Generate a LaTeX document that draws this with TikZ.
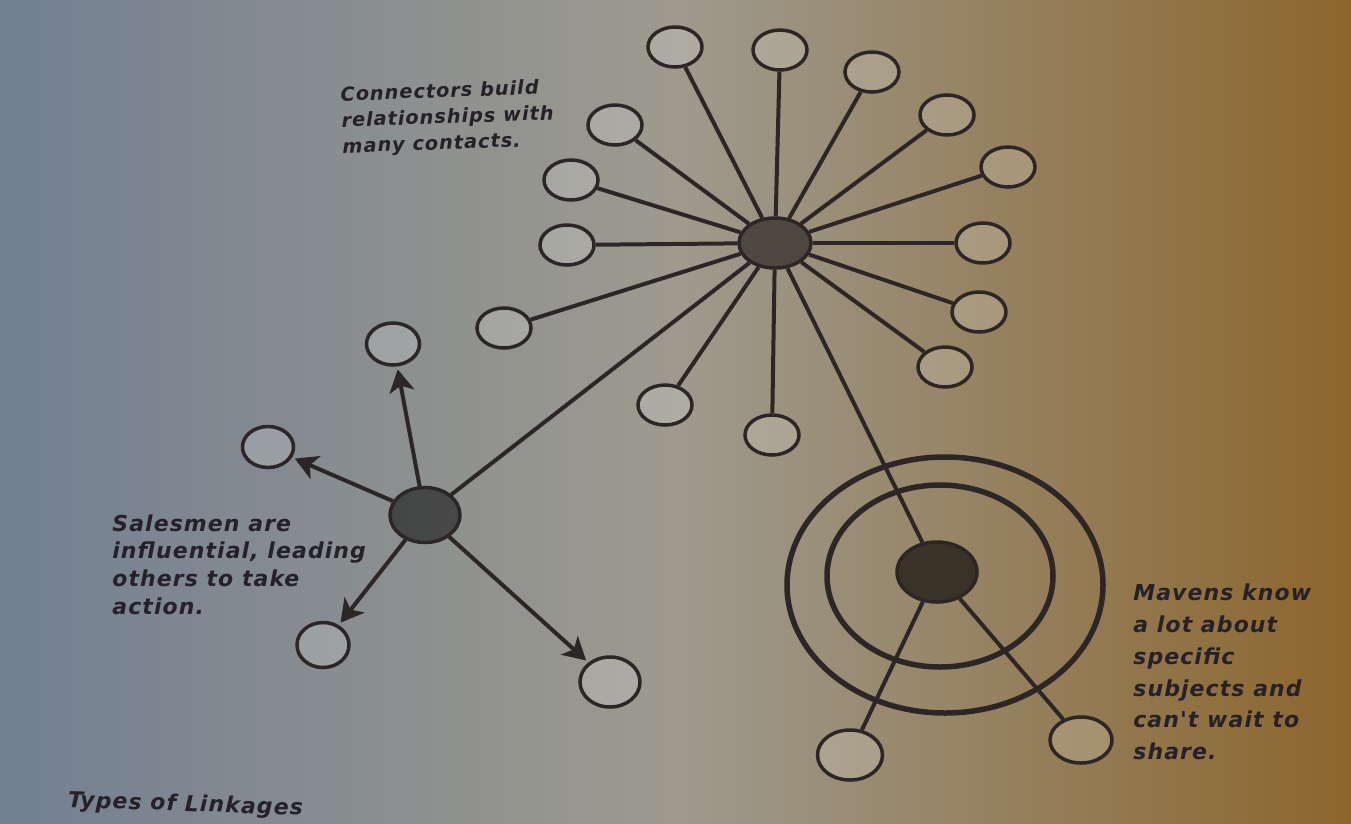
\documentclass[tikz,border=0pt]{standalone}
\usepackage{fontspec}
\newfontfamily\handfont[LetterSpace=5]{DejaVu Sans}
\usepackage{tikz}
\usetikzlibrary{arrows.meta, shapes.geometric, positioning}

\definecolor{pageLeft}{RGB}{114,128,146}
\definecolor{pageMid}{RGB}{158,154,142}
\definecolor{pageOlive}{RGB}{160,142,100}
\definecolor{pageRight}{RGB}{140,102,44}
\definecolor{ink}{RGB}{45,38,38}
\definecolor{penText}{RGB}{38,32,40}

\begin{document}
\begin{tikzpicture}[x=0.2mm, y=-0.2mm,   % one unit = one pixel of the page
    leaf/.style={
        ellipse,
        draw=ink,
        line width=0.7mm,
        fill=white,
        fill opacity=0.18,
        inner sep=0pt,
        minimum width=10.8mm,
        minimum height=8mm
    },
    hub/.style={
        ellipse,
        draw=ink,
        line width=0.7mm,
        fill=black,
        fill opacity=0.5,
        inner sep=0pt
    },
    spoke/.style={draw=ink, line width=0.8mm},
    push/.style={spoke, -{Stealth[length=4.5mm, width=5mm, inset=1.2mm]}, shorten >=0.6mm},
    ring/.style={draw=ink, line width=1.1mm},
    remark/.style={
        font=\handfont\bfseries\itshape\fontsize{12.5pt}{#1}\selectfont,
        text=penText,
        align=left,
        anchor=north west,
        inner sep=0pt
    }
]

    \useasboundingbox (0,0) rectangle (1351,823);
    \fill[left color=pageLeft, right color=pageMid] (0,0) rectangle (680,823);
    \fill[left color=pageMid, middle color=pageOlive, right color=pageRight]
        (680,0) rectangle (1351,823);

    % 1. The Connector
    \node [hub, minimum width=14.4mm, minimum height=10mm] (conn) at (775,243) {};
    \node [leaf] (connA) at (675,47) {};
    \node [leaf] (connB) at (780,50) {};
    \node [leaf] (connC) at (872,72) {};
    \node [leaf] (connD) at (947,115) {};
    \node [leaf] (connE) at (1008,167) {};
    \node [leaf] (connF) at (983,243) {};
    \node [leaf] (connG) at (979,312) {};
    \node [leaf] (connH) at (945,367) {};
    \node [leaf] (connI) at (772,435) {};
    \node [leaf] (connJ) at (665,405) {};
    \node [leaf] (connK) at (504,328) {};
    \node [leaf] (connL) at (567,245) {};
    \node [leaf] (connM) at (571,180) {};
    \node [leaf] (connN) at (615,125) {};

    \draw [spoke] (conn) -- (connA);
    \draw [spoke] (conn) -- (connB);
    \draw [spoke] (conn) -- (connC);
    \draw [spoke] (conn) -- (connD);
    \draw [spoke] (conn) -- (connE);
    \draw [spoke] (conn) -- (connF);
    \draw [spoke] (conn) -- (connG);
    \draw [spoke] (conn) -- (connH);
    \draw [spoke] (conn) -- (connI);
    \draw [spoke] (conn) -- (connJ);
    \draw [spoke] (conn) -- (connK);
    \draw [spoke] (conn) -- (connL);
    \draw [spoke] (conn) -- (connM);
    \draw [spoke] (conn) -- (connN);

    % 2. The Salesman
    \node [hub, minimum width=14mm, minimum height=11mm] (sales) at (425,515) {};
    \node [leaf, minimum width=10.6mm, minimum height=8.4mm] (salesUp) at (393,344) {};
    \node [leaf, minimum width=10.2mm, minimum height=8.2mm] (salesLeft) at (268,447) {};
    \node [leaf, minimum width=10.4mm, minimum height=9mm] (salesDown) at (323,645) {};
    \node [leaf, minimum width=12mm, minimum height=10mm] (salesFar) at (610,682) {};

    \draw [push] (sales) -- (salesUp);
    \draw [push] (sales) -- (salesLeft);
    \draw [push] (sales) -- (salesDown);
    \draw [push] (sales) -- (salesFar);

    % 3. The Maven
    \draw [ring] (945,585) ellipse [x radius=158, y radius=128];
    \draw [ring] (940,576) ellipse [x radius=113, y radius=91];
    \node [hub, fill opacity=0.62, minimum width=16mm, minimum height=12mm] (maven) at (937,572) {};
    \node [leaf, minimum width=13mm, minimum height=10mm] (mavenLeft) at (850,755) {};
    \node [leaf, minimum width=12.4mm, minimum height=9.2mm] (mavenRight) at (1081,740) {};

    \draw [spoke] (maven) -- (mavenLeft);
    \draw [spoke] (maven) -- (mavenRight);

    % The links between the three types
    \draw [spoke] (conn) -- (sales);
    \draw [spoke] (conn) -- (maven);

    % The hand-written notes
    \node [remark=14.8pt, font=\handfont\bfseries\itshape\fontsize{11pt}{14.8pt}\selectfont, rotate=2]
        (connNote) at (340,86) {Connectors build\\relationships with\\many contacts.};
    \node [remark=15.9pt] (salesNote) at (112,514)
        {Salesmen are\\influential, leading\\others to take\\action.};
    \node [remark=18.2pt] (mavenNote) at (1133,583)
        {Mavens know\\a lot about\\specific\\subjects and\\can't wait to\\share.};
    \node [remark=14pt, rotate=-2] (title) at (68,790) {Types of Linkages};

\end{tikzpicture}
\end{document}
